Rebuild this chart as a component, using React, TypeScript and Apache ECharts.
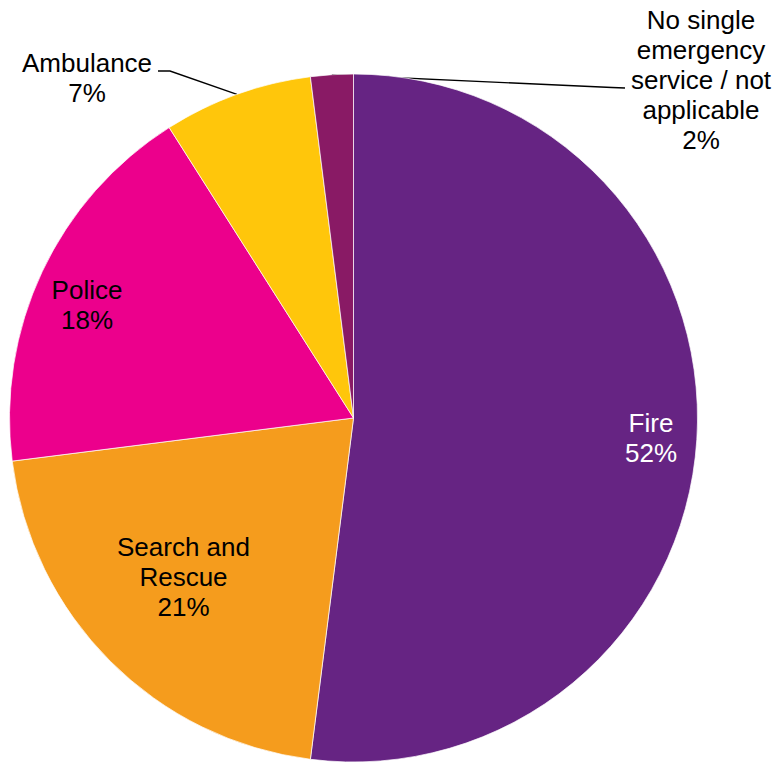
import React, { useEffect, useRef } from "react";
import * as echarts from "echarts";

const categories = [
  "Fire",
  "Search and Rescue",
  "Police",
  "Ambulance",
  "No single emergency service / not applicable",
];
const labelTexts = [
  "Fire",
  "Search and\nRescue",
  "Police",
  "Ambulance",
  "No single\nemergency\nservice / not\napplicable",
];
const values = [52, 21, 18, 7, 2];
const colors = ["#662483", "#F59C1D", "#EC008C", "#FFC60B", "#891A65"];

// layout (pixel positions of label centres, label line elbows)
const CX = 353.5;
const CY = 418;
const R = 344;
const labelCenters: [number, number][] = [
  [651, 438],
  [183.5, 577],
  [87, 304.5],
  [87, 78],
  [701, 80],
];
const lineElbows: ([number, number][] | null)[] = [
  null,
  null,
  null,
  [
    [170, 71],
    [158, 71],
  ],
  [
    [612, 87.5],
    [625, 88],
  ],
];

function edgePoint(idx: number): [number, number] {
  const total = values.reduce((a, b) => a + b, 0);
  let cum = 0;
  for (let i = 0; i < idx; i++) cum += values[i];
  const mid = ((cum + values[idx] / 2) / total) * Math.PI * 2;
  return [CX + R * Math.sin(mid), CY - R * Math.cos(mid)];
}

export default function App() {
  const ref = useRef<HTMLDivElement>(null);
  useEffect(() => {
    if (!ref.current) return;
    const chart = echarts.init(ref.current, undefined, { renderer: "svg" });
    chart.setOption({
      animation: false,
      backgroundColor: "#ffffff",
      series: [
        {
          type: "pie",
          center: [CX, CY],
          radius: R,
          startAngle: 90,
          clockwise: true,
          avoidLabelOverlap: false,
          itemStyle: { borderColor: "#ffffff", borderWidth: 0.7 },
          emphasis: { disabled: true },
          label: {
            show: true,
            fontFamily: "'Liberation Sans', Arial, sans-serif",
            fontSize: 26,
            lineHeight: 30,
            color: "#000000",
            align: "center",
          },
          labelLine: {
            show: false,
            lineStyle: { color: "#000000", width: 1.4 },
          },
          labelLayout: (params: any) => {
            const i = params.dataIndex;
            const [x, y] = labelCenters[i];
            const res: any = { x, y, align: "center", verticalAlign: "middle" };
            const elbows = lineElbows[i];
            if (elbows) {
              res.labelLinePoints = [edgePoint(i), ...elbows];
            }
            return res;
          },
          data: categories.map((name, i) => ({
            name,
            value: values[i],
            itemStyle: { color: colors[i] },
            label: {
              formatter: `${labelTexts[i]}\n${values[i]}%`,
              position: lineElbows[i] ? "outside" : "inside",
              color: i === 0 ? "#ffffff" : "#000000",
            },
            labelLine: { show: !!lineElbows[i] },
          })),
        },
      ],
    });
    return () => chart.dispose();
  }, []);
  return (
    <div
      ref={ref}
      style={{ position: "absolute", left: 0, top: 0, width: 779, height: 762 }}
    />
  );
}
